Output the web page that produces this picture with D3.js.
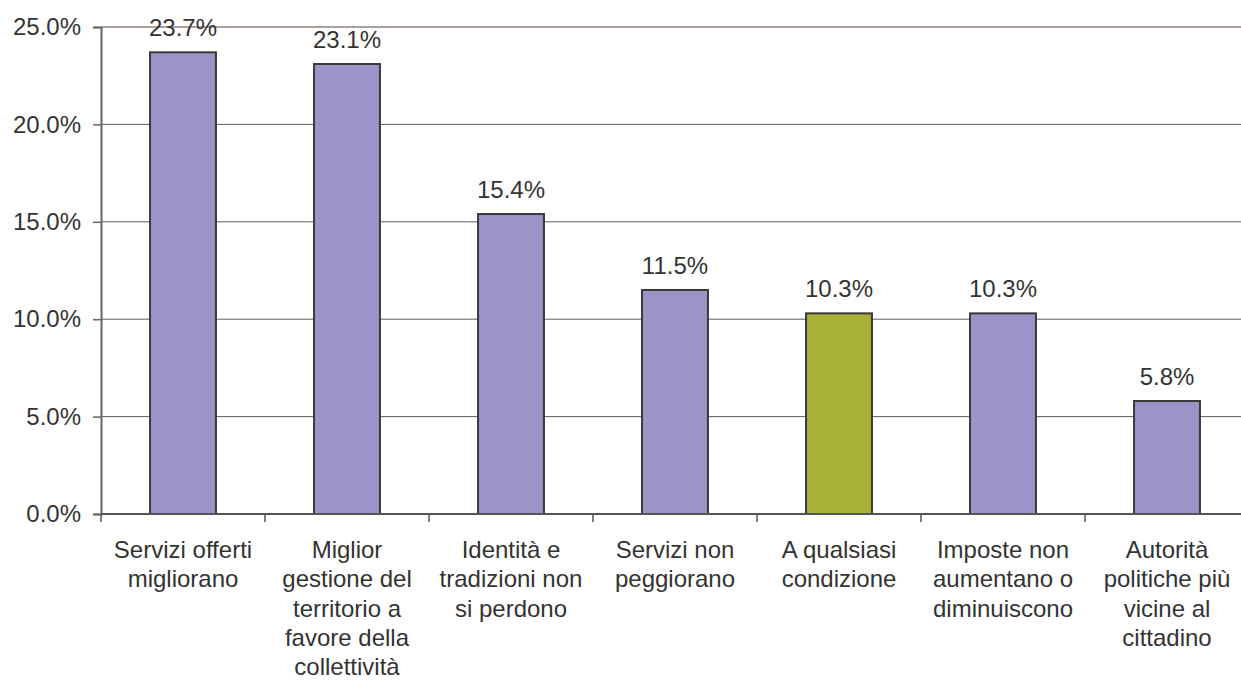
<!DOCTYPE html>
<html>
<head>
<meta charset="utf-8">
<script src="https://cdn.jsdelivr.net/npm/d3@7"></script>
<style>
  body { margin: 0; background: #fff; }
  svg { display: block; font-family: "Liberation Sans", Arial, sans-serif; }
</style>
</head>
<body>
<svg id="chart" width="1241" height="680"></svg>
<script>
// data
const categories = [
    "Servizi offerti\nmigliorano",
    "Miglior\ngestione del\nterritorio a\nfavore della\ncollettività",
    "Identità e\ntradizioni non\nsi perdono",
    "Servizi non\npeggiorano",
    "A qualsiasi\ncondizione",
    "Imposte non\naumentano o\ndiminuiscono",
    "Autorità\npolitiche più\nvicine al\ncittadino"
];
const values = [23.7, 23.1, 15.4, 11.5, 10.3, 10.3, 5.8];
const highlight = "A qualsiasi\ncondizione";
const yTicks = [0, 5, 10, 15, 20, 25];

const purple = "#9b94c8";
const green = "#a8b038";
const textColor = "#333";

var svg = d3.select("#chart");

var x = d3.scaleBand()
    .domain(categories)
    .range([101, 1249])
    .paddingInner(0.598)
    .paddingOuter(0.299);

var y = d3.scaleLinear()
    .domain([0, 25])
    .range([514, 27]);

// gridlines (top one is lighter, brownish)
svg.append("g")
    .selectAll("line")
    .data(yTicks.slice(1))
    .join("line")
    .attr("x1", 101)
    .attr("x2", 1249)
    .attr("y1", d => y(d))
    .attr("y2", d => y(d))
    .attr("stroke", d => d === 25 ? "#8c807a" : "#5e5e5e")
    .attr("stroke-width", d => d === 25 ? 1.5 : 1);

// y axis
var yAxis = svg.append("g")
    .attr("transform", "translate(101,0)")
    .call(d3.axisLeft(y).tickValues(yTicks).tickSize(8).tickPadding(12)
        .tickFormat(d => d.toFixed(1) + "%"));
yAxis.select(".domain").attr("stroke", "#666").attr("stroke-width", 2);
yAxis.selectAll(".tick line").attr("stroke", "#666").attr("stroke-width", 1.5);
yAxis.selectAll(".tick text")
    .attr("fill", textColor)
    .style("font-size", "24px")
    .style("font-family", "'Liberation Sans', Arial, sans-serif");

// bars
svg.append("g")
    .selectAll("rect")
    .data(values)
    .join("rect")
    .attr("x", (d, i) => x(categories[i]))
    .attr("y", d => y(d))
    .attr("width", x.bandwidth())
    .attr("height", d => y(0) - y(d))
    .attr("fill", (d, i) => categories[i] === highlight ? green : purple)
    .attr("stroke", "#3a3a3a")
    .attr("stroke-width", 2);

// value labels
svg.append("g")
    .selectAll("text")
    .data(values)
    .join("text")
    .attr("x", (d, i) => x(categories[i]) + x.bandwidth() / 2)
    .attr("y", d => y(d) - 16)
    .attr("text-anchor", "middle")
    .attr("fill", textColor)
    .style("font-size", "24px")
    .text(d => d.toFixed(1) + "%");

// x axis
svg.append("line")
    .attr("x1", 101).attr("x2", 1249)
    .attr("y1", y(0)).attr("y2", y(0))
    .attr("stroke", "#555")
    .attr("stroke-width", 2);

var step = x.step();
svg.append("g")
    .selectAll("line")
    .data(d3.range(categories.length + 1))
    .join("line")
    .attr("x1", i => 101 + i * step)
    .attr("x2", i => 101 + i * step)
    .attr("y1", y(0))
    .attr("y2", y(0) + 8)
    .attr("stroke", "#555")
    .attr("stroke-width", 1.5);

// category labels
var labels = svg.append("g")
    .selectAll("text")
    .data(categories)
    .join("text")
    .attr("text-anchor", "middle")
    .attr("fill", textColor)
    .style("font-size", "24px");

labels.each(function(c) {
    var cx = x(c) + x.bandwidth() / 2;
    d3.select(this).selectAll("tspan")
        .data(c.split("\n"))
        .join("tspan")
        .attr("x", cx)
        .attr("y", (d, i) => 558 + i * 29.3)
        .text(d => d);
});
</script>
</body>
</html>
